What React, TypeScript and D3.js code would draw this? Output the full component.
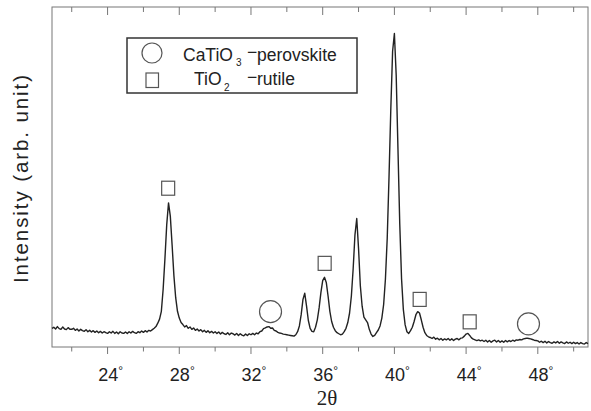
import React from "react";
import * as d3 from "d3";

// 2θ grid of the scan (degrees) – first reading and spacing
const thetaStart = 20.9;
const thetaStep = 0.1;

const intensity: number[] = [
  55,
  58, 53, 60, 54, 52, 59, 53, 51, 57, 52, // 21
  52, 55, 49, 53, 47, 52, 48, 46, 51, 45, // 22
  49, 44, 48, 43, 47, 42, 46, 41, 45, 42, // 23
  40, 45, 41, 46, 40, 44, 39, 45, 41, 40, // 24
  44, 40, 45, 41, 46, 42, 40, 45, 42, 47, // 25
  43, 48, 44, 49, 47, 51, 55, 60, 70, 82, // 26
  105, 170, 260, 360, 424, 385, 300, 210, 145, 105, // 27
  85, 72, 66, 59, 63, 55, 59, 52, 56, 49, // 28
  53, 47, 51, 45, 49, 43, 48, 42, 46, 41, // 29
  45, 40, 44, 38, 43, 39, 37, 42, 36, 41, // 30
  39, 35, 40, 34, 39, 35, 33, 38, 34, 39, // 31
  36, 40, 36, 41, 39, 45, 47, 54, 56, 59, // 32
  60, 55, 56, 49, 47, 43, 41, 40, 38, 37, // 33
  36, 35, 34, 33, 32, 36, 45, 62, 95, 140, // 34
  158, 120, 78, 55, 46, 45, 58, 80, 115, 160, // 35
  195, 205, 190, 150, 105, 75, 58, 48, 42, 39, // 36
  36, 38, 45, 55, 72, 100, 150, 230, 330, 378, // 37
  290, 180, 120, 88, 80, 72, 52, 38, 31, 34, // 38
  42, 50, 62, 85, 125, 200, 320, 500, 700, 870, // 39
  922, 800, 580, 360, 200, 110, 65, 45, 40, 48, // 40
  58, 75, 95, 104, 100, 80, 58, 42, 34, 30, // 41
  28, 25, 29, 23, 26, 21, 25, 20, 24, 21, // 42
  25, 20, 24, 19, 23, 25, 21, 26, 27, 32, // 43
  38, 40, 34, 27, 23, 21, 19, 21, 18, 20, // 44
  16, 20, 15, 19, 14, 18, 20, 15, 19, 14, // 45
  18, 14, 19, 15, 19, 16, 20, 17, 21, 20, // 46
  22, 21, 24, 25, 26, 25, 24, 22, 20, 19, // 47
  18, 14, 17, 13, 17, 12, 16, 13, 11, 15, // 48
  12, 16, 11, 15, 12, 10, 15, 11, 14, 10, // 49
  14, 10, 13, 9, 13, 10, 9, 13, 10, // 50
];

// Phase markers above the peaks
const markerTheta = [27.38, 36.11, 41.41, 44.2, 33.09, 47.48];
const markerIntensity = [467, 246, 140, 74, 104, 68];
const markerPhase = ["rutile", "rutile", "rutile", "rutile", "perovskite", "perovskite"];

// Axis ticks
const tickValues = [22, 24, 26, 28, 30, 32, 34, 36, 38, 40, 42, 44, 46, 48, 50];
const labelValues = [24, 28, 32, 36, 40, 44, 48];

const xDomain: [number, number] = [20.9, 50.8];
const yDomain: [number, number] = [0, 1000];

export default function App() {
  const W = 591;
  const H = 411;
  const left = 52;
  const right = 588;
  const top = 7;
  const bottom = 347;

  const x = d3.scaleLinear().domain(xDomain).range([left, right]);
  const y = d3.scaleLinear().domain(yDomain).range([bottom, top]);

  const pts: [number, number][] = intensity.map((v, i) => [thetaStart + i * thetaStep, v]);
  const line = d3
    .line<[number, number]>()
    .x((d) => x(d[0]))
    .y((d) => y(d[1]));

  const sans = "'Liberation Sans', Arial, sans-serif";
  const markerStroke = "#555";

  return (
    <svg
      width={W}
      height={H}
      style={{ position: "absolute", left: 0, top: 0, background: "#fff" }}
      xmlns="http://www.w3.org/2000/svg"
    >
      <rect x={0} y={0} width={W} height={H} fill="#fff" />
      {/* frame */}
      <rect x={left} y={top} width={right - left} height={bottom - top} fill="none" stroke="#777" strokeWidth={1} />

      {/* bottom ticks (outward) */}
      {tickValues.map((t) => (
        <line
          key={"b" + t}
          x1={x(t)}
          x2={x(t)}
          y1={bottom}
          y2={bottom + (t % 4 === 0 ? 7 : 4.5)}
          stroke="#777"
          strokeWidth={1}
        />
      ))}
      {/* top ticks (inward) */}
      {tickValues.map((t) => (
        <line
          key={"t" + t}
          x1={x(t)}
          x2={x(t)}
          y1={top}
          y2={top + (t % 4 === 0 ? 8 : 5)}
          stroke="#777"
          strokeWidth={1}
        />
      ))}
      {/* tick labels */}
      {labelValues.map((t) => (
        <text
          key={"l" + t}
          x={x(t) + 3}
          y={381}
          textAnchor="middle"
          fontFamily={sans}
          fontSize={18}
          fill="#222"
        >
          {t}
          <tspan fontSize={12} dy={-6}>°</tspan>
        </text>
      ))}

      {/* axis titles */}
      <text x={327} y={405} textAnchor="middle" fontFamily="'Liberation Serif', 'Times New Roman', serif" fontSize={21} fill="#222">
        2θ
      </text>
      <text
        transform={`translate(28,${(75 + 283) / 2}) rotate(-90)`}
        textAnchor="middle"
        fontFamily={sans}
        fontSize={20.5}
        fill="#222"
        textLength={208}
        lengthAdjust="spacing"
      >
        Intensity (arb. unit)
      </text>

      {/* XRD pattern */}
      <path d={line(pts) || ""} fill="none" stroke="#222" strokeWidth={1.4} strokeLinejoin="round" />

      {/* phase markers */}
      {markerTheta.map((t, i) =>
        markerPhase[i] === "rutile" ? (
          <rect
            key={"m" + i}
            x={x(t) - 6.5}
            y={y(markerIntensity[i]) - 7}
            width={13}
            height={14}
            fill="none"
            stroke={markerStroke}
            strokeWidth={1.2}
          />
        ) : (
          <circle
            key={"m" + i}
            cx={x(t)}
            cy={y(markerIntensity[i])}
            r={11}
            fill="none"
            stroke={markerStroke}
            strokeWidth={1.2}
          />
        )
      )}

      {/* legend */}
      <rect x={127} y={38} width={230} height={55} fill="#fff" stroke="#333" strokeWidth={1.5} />
      <circle cx={152} cy={53} r={10} fill="none" stroke={markerStroke} strokeWidth={1.2} />
      <rect x={146} y={73} width={12.5} height={14.5} fill="none" stroke={markerStroke} strokeWidth={1.2} />
      <text x={183} y={60.5} fontFamily={sans} fontSize={17.5} fill="#222">CaTiO</text>
      <text x={236} y={66} fontFamily={sans} fontSize={10} fill="#222">3</text>
      <text x={247} y={58} fontFamily={sans} fontSize={17.5} fill="#222">−</text>
      <text x={257} y={60.5} fontFamily={sans} fontSize={17.5} fill="#222">perovskite</text>
      <text x={194} y={85} fontFamily={sans} fontSize={17.5} fill="#222">TiO</text>
      <text x={224} y={91} fontFamily={sans} fontSize={10} fill="#222">2</text>
      <text x={247} y={82.5} fontFamily={sans} fontSize={17.5} fill="#222">−</text>
      <text x={257} y={85} fontFamily={sans} fontSize={17.5} fill="#222">rutile</text>
    </svg>
  );
}
